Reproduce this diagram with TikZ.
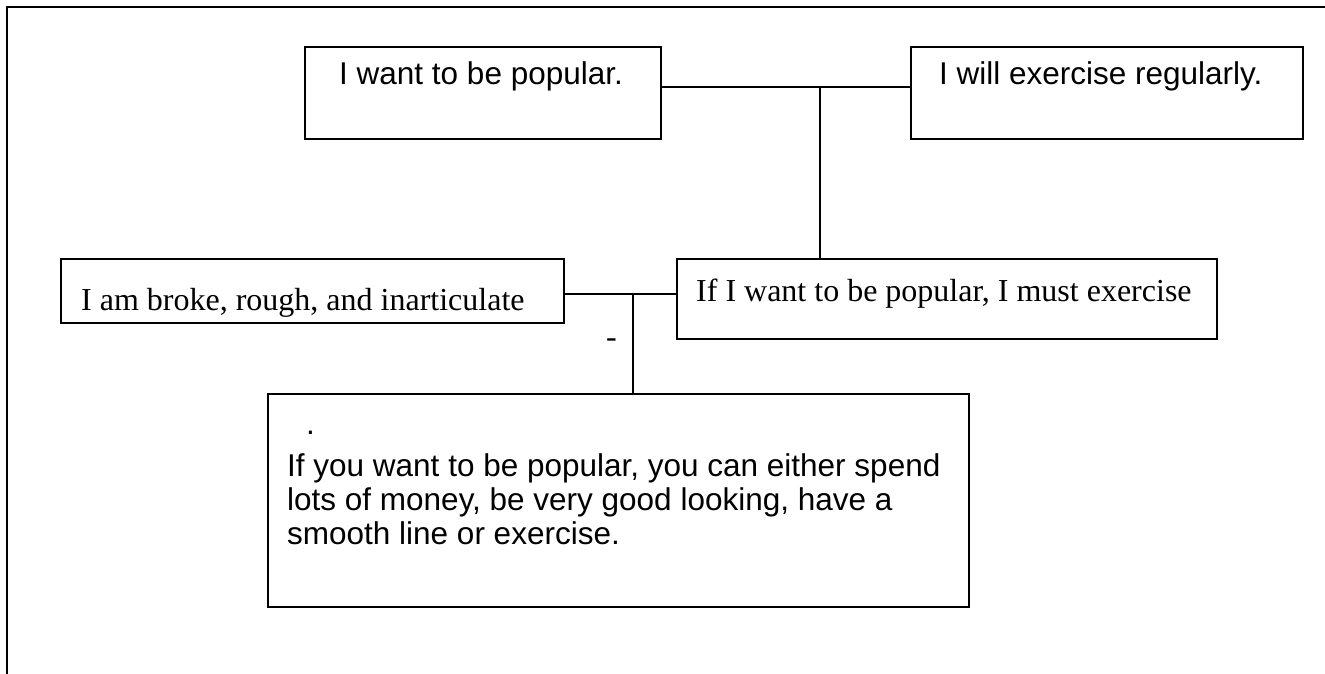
\documentclass[tikz,border=0pt]{standalone}
\usepackage{fontspec}
\setmainfont{Liberation Serif}
\newfontfamily\arialf{Liberation Sans}
\tikzset{
  box/.style={draw=black, line width=2pt, rectangle, inner sep=0pt, fill=white},
  link/.style={draw=black, line width=2pt},
  sanstext/.style={inner sep=0pt, anchor=base west, font=\arialf\fontsize{31.5}{36}\selectfont},
  seriftext/.style={inner sep=0pt, anchor=base west, font=\fontsize{32}{36}\selectfont}
}
\begin{document}
\begin{tikzpicture}[x=1pt,y=-1pt]
\useasboundingbox (0,0) rectangle (1325,674);
% frame
\draw[line width=2.2pt] (1325,7) -- (7,7) -- (7,674);
% boxes
\node[box, minimum width=356pt, minimum height=92pt] (A) at (483,93) {};
\node[box, minimum width=392pt, minimum height=92pt] (B) at (1107,93) {};
\node[box, minimum width=503pt, minimum height=64pt] (C) at (312.5,291) {};
\node[box, minimum width=540pt, minimum height=80pt] (D) at (947,299) {};
\node[box, minimum width=701pt, minimum height=213pt] (E) at (618.5,500.5) {};
% junctions
\coordinate (jAB) at (820,87);
\coordinate (jCD) at (633,294);
\draw[link] (A.east |- jAB) -- (B.west |- jAB);
\draw[link] (jAB) -- (jAB |- D.north);
\draw[link] (C.east |- jCD) -- (D.west |- jCD);
\draw[link] (jCD) -- (jCD |- E.north);
% texts
\node[sanstext] (tA) at (339,85) {I want to be popular.};
\node[sanstext] (tB) at (939,85) {I will exercise regularly.};
\node[seriftext] (tC) at (81,310) {I am broke, rough, and inarticulate};
\node[seriftext] (tD) at (696,301) {If I want to be popular, I must exercise};
\node[seriftext] (dash) at (606,347) {-};
\node[sanstext] (tE0) at (306,434) {.};
\node[sanstext] (tE1) at (287,476) {If you want to be popular, you can either spend};
\node[sanstext] (tE2) at (287,510) {lots of money, be very good looking, have a};
\node[sanstext] (tE3) at (287,544) {smooth line or exercise.};
\end{tikzpicture}
\end{document}
